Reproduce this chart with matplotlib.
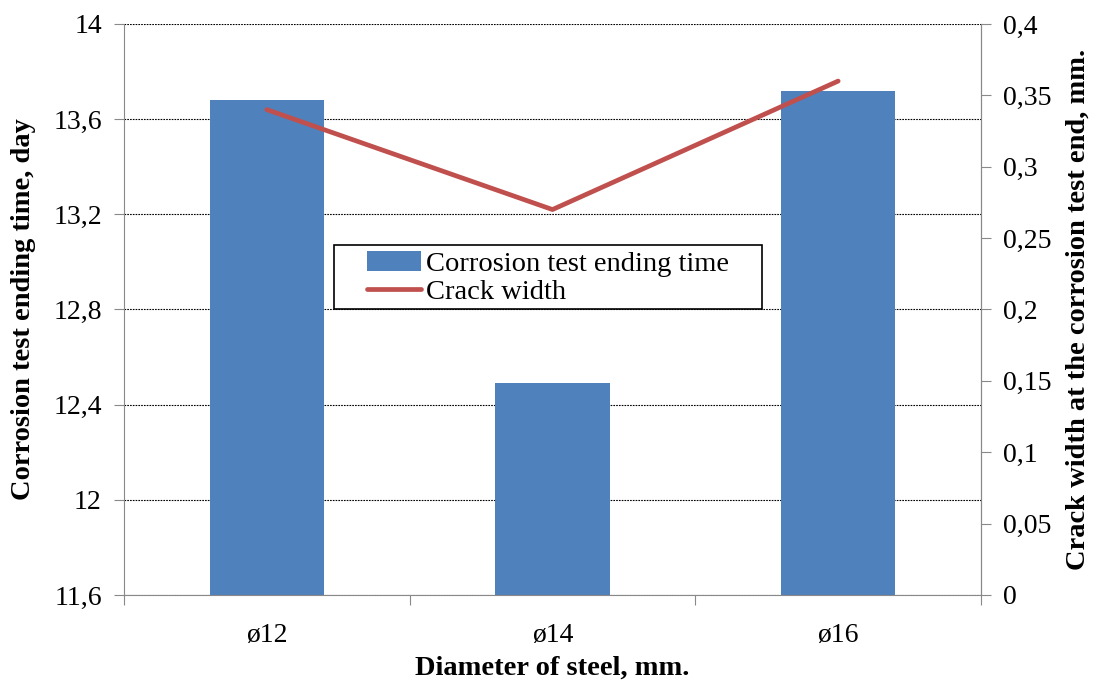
import matplotlib.pyplot as plt
from matplotlib.ticker import FixedLocator, FuncFormatter
from matplotlib.patches import Rectangle
import numpy as np

plt.rcParams['font.family'] = ['Liberation Serif', 'DejaVu Serif']

# данные
diameters = ["ø12", "ø14", "ø16"]
end_time = [13.68, 12.49, 13.72]      # сутки
crack_width = [0.34, 0.27, 0.36]      # мм

bar_color = "#4F81BD"
line_color = "#C0504D"
axis_gray = "#898989"


def comma(v, pos):
    s = "{:g}".format(round(v, 3))
    return s.replace(".", ",")


fig = plt.figure(figsize=(11.01, 6.85), dpi=100)
ax = fig.add_axes([0.1126, 0.1314, 0.7784, 0.8336])
x = np.arange(len(diameters))

bars = ax.bar(x, end_time, width=0.4, color=bar_color, zorder=2,
              label="Corrosion test ending time")
ax.set_ylim(11.6, 14)
ax.set_yticks(np.arange(11.6, 14.01, 0.4))
ax.yaxis.set_major_formatter(FuncFormatter(comma))
ax.set_xlim(-0.5, 2.5)
ax.grid(axis="y", color="black", linestyle=(0, (1.5, 1)), linewidth=0.8, zorder=1)

# деления по границам категорий, подписи по центру
ax.xaxis.set_major_locator(FixedLocator([-0.5, 0.5, 1.5, 2.5]))
ax.xaxis.set_major_formatter(FuncFormatter(lambda v, p: ""))
ax.xaxis.set_minor_locator(FixedLocator(x))
ax.set_xticklabels(diameters, minor=True)
ax.tick_params(axis="x", which="minor", length=0, labelsize=20, pad=20)
ax.tick_params(axis="x", which="major", length=7, color=axis_gray)
ax.tick_params(axis="y", length=7, color=axis_gray, labelsize=20, pad=9)

for s in ["left", "bottom", "right"]:
    ax.spines[s].set_color(axis_gray)
ax.spines["top"].set_visible(False)

ax.set_xlabel("Diameter of steel, mm.", fontsize=20.5, fontweight="bold")
ax.xaxis.set_label_coords(0.5, -0.107)
ax.set_ylabel("Corrosion test ending time, day", fontsize=20.5, fontweight="bold", labelpad=12)

ax2 = ax.twinx()
line, = ax2.plot(x, crack_width, color=line_color, linewidth=3.4,
                 solid_capstyle="round", label="Crack width", zorder=3)
ax2.set_ylim(0, 0.4)
ax2.set_yticks(np.arange(0, 0.401, 0.05))
ax2.yaxis.set_major_formatter(FuncFormatter(comma))
ax2.tick_params(axis="y", length=7, color=axis_gray, labelsize=20, pad=9)
ax2.spines["right"].set_color(axis_gray)
ax2.spines["left"].set_visible(False)
ax2.spines["top"].set_visible(False)
ax2.spines["bottom"].set_visible(False)
ax2.set_ylabel("Crack width at the corrosion test end, mm.", fontsize=20.5,
               fontweight="bold", labelpad=10)

# рамка легенды
ax2.add_patch(Rectangle((0.245, 0.501), 0.499, 0.112, transform=ax2.transAxes,
                        facecolor="white", edgecolor="black", linewidth=1.2,
                        zorder=4))
leg = ax2.legend([bars, line], ["Corrosion test ending time", "Crack width"],
                 loc="upper left", bbox_to_anchor=(0.283, 0.603), borderaxespad=0,
                 fontsize=20.5, frameon=False, handlelength=1.9,
                 handletextpad=0.2, labelspacing=0.1, borderpad=0)
leg.set_zorder(5)

fig.savefig("out.png", dpi=100)
